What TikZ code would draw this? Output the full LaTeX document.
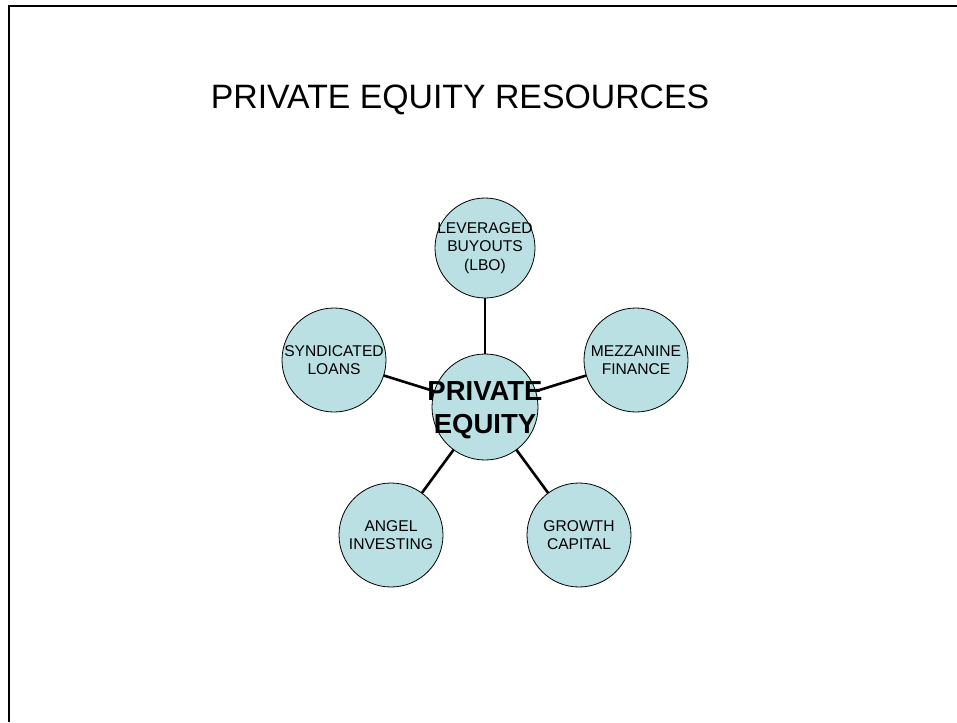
\documentclass[tikz,border=0pt]{standalone}
\usepackage{fontspec}
\setmainfont{Liberation Sans}
\definecolor{bubble}{RGB}{186,224,227}
\begin{document}
\begin{tikzpicture}[x=1pt,y=-1pt,
  bubble/.style={circle,draw=black,line width=0.8pt,fill=bubble,minimum size=104pt,inner sep=0pt},
  leaf/.style={align=center,font=\fontsize{15.6}{18.5}\selectfont,inner sep=0pt},
  hub/.style={align=center,font=\fontsize{27.5}{33}\selectfont\bfseries,inner sep=0pt},
  link/.style={line width=2.6pt,black}]
\useasboundingbox (0,0) rectangle (957,722);
% slide frame (top and left edges)
\draw[line width=2.5pt] (957,6) -- (9,6) -- (9,722);
% title
\node[font=\fontsize{33.8}{40}\selectfont,anchor=base] (title) at (460,109) {PRIVATE EQUITY RESOURCES};
% pentagon of circles around the hub
\coordinate (c) at (485,407);
\coordinate (p1) at (485,248);
\coordinate (p2) at (636,360);
\coordinate (p3) at (579,535);
\coordinate (p4) at (391,535);
\coordinate (p5) at (334,360);
\draw[link] (c) -- (p1);
\draw[link] (c) -- (p2);
\draw[link] (c) -- (p3);
\draw[link] (c) -- (p4);
\draw[link] (c) -- (p5);
\node[bubble,minimum size=100pt] (lbo) at (p1) {};
\node[bubble] (mez) at (p2) {};
\node[bubble] (gro) at (p3) {};
\node[bubble] (ang) at (p4) {};
\node[bubble] (syn) at (p5) {};
\node[bubble,minimum size=106pt] (pe) at (c) {};
\node[leaf] (lbot) at (lbo) {LEVERAGED\\BUYOUTS\\(LBO)};
\node[leaf] (mezt) at (mez) {MEZZANINE\\FINANCE};
\node[leaf] (grot) at (gro) {GROWTH\\CAPITAL};
\node[leaf] (angt) at (ang) {ANGEL\\INVESTING};
\node[leaf] (synt) at (syn) {SYNDICATED\\LOANS};
\node[hub,yshift=-3pt] (pet) at (pe) {PRIVATE\\EQUITY};
\end{tikzpicture}
\end{document}
